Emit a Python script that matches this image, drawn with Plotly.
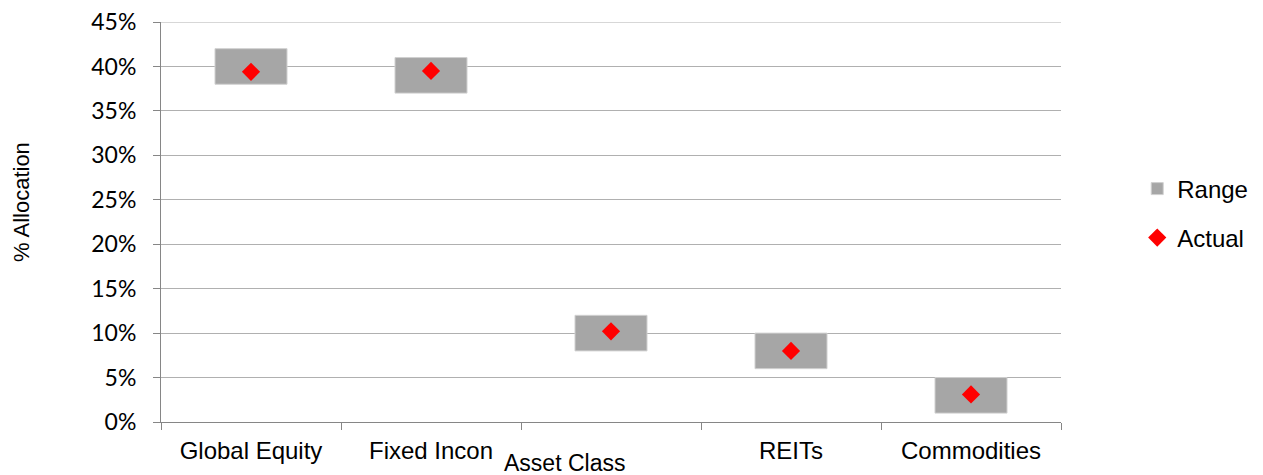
import plotly.graph_objects as go

# Allocation ranges and actual weights (%)
asset_classes = ['Global Equity', 'Fixed Income', 'Alternatives', 'REITs', 'Commodities']
tick_labels = ['Global Equity', 'Fixed Incon', '', 'REITs', 'Commodities']
range_low = [38, 37, 8, 6, 1]
range_high = [42, 41, 12, 10, 5]
actual = [39.4, 39.5, 10.2, 8.0, 3.1]
y_ticks = [0, 5, 10, 15, 20, 25, 30, 35, 40, 45]
y_tick_labels = ['0%', '5%', '10%', '15%', '20%', '25%', '30%', '35%', '40%', '45%']

font_main = 'Liberation Sans, Arial, sans-serif'
grid_color = '#b0b0b0'

# page body has an 8px margin, so shift everything up/left by 8px
W, H = 1255, 467
L, T = 153, 14

fig = go.Figure()
fig.add_trace(go.Bar(
    x=asset_classes,
    y=[h - l for h, l in zip(range_high, range_low)],
    base=range_low,
    width=0.4,
    name='Range',
    marker=dict(color='#a6a6a6', line=dict(color='#d0d0d0', width=1)),
    legend='legend',
))
fig.add_trace(go.Scatter(
    x=asset_classes,
    y=actual,
    mode='markers',
    name='Actual',
    marker=dict(symbol='diamond', color='#ff0000', size=14),
    legend='legend2',
))

# plotly skips the gridline sitting on the top edge, draw it by hand
fig.add_shape(type='line', xref='paper', yref='y', x0=0, x1=1, y0=y_ticks[-1], y1=y_ticks[-1],
              line=dict(color=grid_color, width=1), layer='below')

fig.update_layout(
    width=W,
    height=H,
    margin=dict(l=L, r=W - L - 900, t=T, b=H - T - 400, autoexpand=False),
    plot_bgcolor='white',
    paper_bgcolor='white',
    font=dict(family=font_main, size=23, color='#000000'),
    showlegend=True,
    legend=dict(x=1.0847, y=(400 - 181) / 400 + 0.035, xanchor='left', yanchor='middle',
                font=dict(family=font_main, size=24)),
    legend2=dict(x=1.0847, y=(400 - 230) / 400 + 0.035, xanchor='left', yanchor='middle',
                 font=dict(family=font_main, size=24)),
    xaxis=dict(
        type='category',
        tickmode='array',
        tickvals=asset_classes,
        ticktext=tick_labels,
        tickson='boundaries',
        ticks='outside',
        ticklen=7,
        tickcolor='#868686',
        showline=True,
        linecolor='#868686',
        linewidth=1,
        showgrid=False,
        range=[-0.5, 4.5],
        automargin=False,
        ticklabelstandoff=7,
        ticklabeloverflow='allow',
        tickfont=dict(family=font_main, size=24),
    ),
    yaxis=dict(
        range=[0, 45],
        tickmode='array',
        tickvals=y_ticks,
        ticktext=y_tick_labels,
        ticks='outside',
        ticklen=7,
        tickcolor='#868686',
        showline=True,
        linecolor='#868686',
        linewidth=1,
        showgrid=True,
        gridcolor=grid_color,
        gridwidth=1,
        zeroline=False,
        automargin=False,
        ticklabelstandoff=12,
        ticklabeloverflow='allow',
        tickfont=dict(family='Lato, sans-serif', size=23),
    ),
    annotations=[
        dict(text='Asset Class', xref='paper', yref='paper', x=(564 - 161) / 900, y=-(463 - 422) / 400,
             xanchor='center', yanchor='middle', showarrow=False, font=dict(family=font_main, size=23)),
        dict(text='% Allocation', xref='paper', yref='paper', x=(22 - 161) / 900, y=(422 - 202) / 400,
             xanchor='center', yanchor='middle', textangle=-90, showarrow=False,
             font=dict(family=font_main, size=22)),
    ],
)

fig.write_html('out.html')
